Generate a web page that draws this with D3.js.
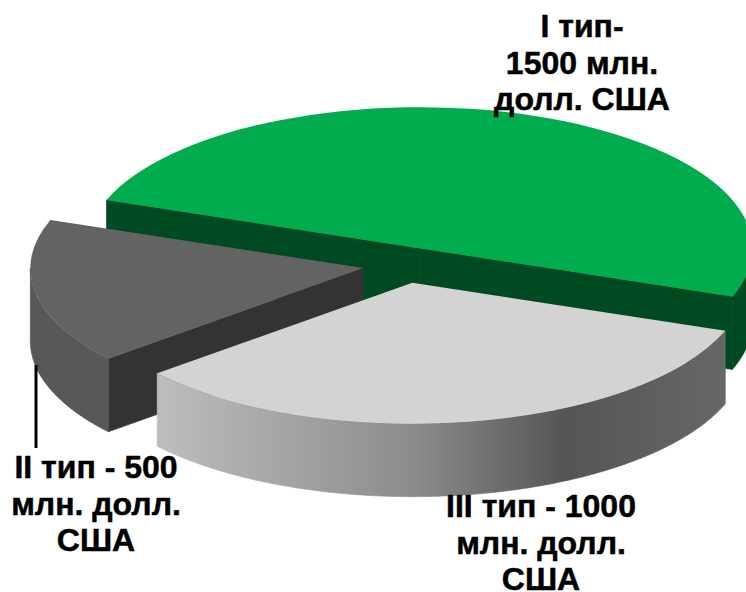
<!DOCTYPE html>
<html>
<head>
<meta charset="utf-8">
<script src="https://cdnjs.cloudflare.com/ajax/libs/d3/7.8.5/d3.min.js"></script>
<style>
    html, body { margin: 0; background: #fff; }
    svg { display: block; }
    text { font-family: "Liberation Sans", Arial, sans-serif; font-weight: bold; font-size: 32px; fill: #000; stroke: #000; stroke-width: 0.5px; }
</style>
</head>
<body>
<div id="chart"></div>
<script>
// clockwise from the big slice
var categories = ["I тип", "III тип", "II тип"];
var values = [1500, 1000, 500];
var labelLines = [
    ["I тип-", "1500 млн.", "долл. США"],
    ["III тип - 1000", "млн. долл.", "США"],
    ["II тип - 500", "млн. долл.", "США"]
];
var topColors = ["#00ac4e", "#d3d3d3", "#636363"];
var rimColors = ["#004a22", "url(#rimGradient)", "#585858"];
var cutColors = ["#004a22", "#d3d3d3", "#333333"];

var width = 746, height = 592;
var cx = 405, cy = 265;      // pie centre before the slices are pulled out
var radius = 333, tilt = 141 / 333;
var depth = 73, explode = 0.127;
var labelPos = [[582, 37], [541, 517], [96, 478]];
var lineHeight = 36.5;

var svg = d3.select("#chart").append("svg")
    .attr("width", width)
    .attr("height", height);

var gradient = svg.append("defs").append("linearGradient")
    .attr("id", "rimGradient");
[[0, "#bdbdbd"], [0.45, "#8c8c8c"], [0.72, "#555555"], [1, "#676767"]].forEach(function(s) {
    gradient.append("stop").attr("offset", s[0]).attr("stop-color", s[1]);
});

var pie = d3.pie()
    .sort(null)
    .startAngle(290 * Math.PI / 180)
    .endAngle(650 * Math.PI / 180);

var slices = pie(values).map(function(d, i) {
    var mid = (d.startAngle + d.endAngle) / 2;
    d.index = i;
    d.x = cx + explode * radius * Math.sin(mid);
    d.y = cy - explode * radius * tilt * Math.cos(mid);
    return d;
});

// paint back to front
slices.sort(function(a, b) { return a.y - b.y; });

var topArc = d3.arc().innerRadius(0).outerRadius(radius);
var wallLine = d3.line();

function rimPoint(d, a, drop) {
    return [d.x + radius * Math.sin(a), d.y - radius * tilt * Math.cos(a) + drop];
}

// outer wall: only the part of the arc that faces the viewer
function rimPath(d) {
    var step = Math.PI / 360;
    var angles = d3.range(d.startAngle, d.endAngle + step / 2, step).filter(function(a) {
        return Math.cos(a) <= 0;
    });
    if (!angles.length) return null;
    var upper = angles.map(function(a) { return rimPoint(d, a, 0); });
    var lower = angles.slice().reverse().map(function(a) { return rimPoint(d, a, depth); });
    return wallLine(upper.concat(lower)) + "Z";
}

function cutPath(d, a) {
    return wallLine([[d.x, d.y], rimPoint(d, a, 0), rimPoint(d, a, depth), [d.x, d.y + depth]]) + "Z";
}

var groups = svg.selectAll("g.slice")
    .data(slices)
    .enter().append("g")
    .attr("class", "slice");

groups.each(function(d) {
    var g = d3.select(this);

    // straight cut faces, drawn only if they turn toward the viewer
    // thin stroke in the same colour hides the seams between faces
    if (-Math.sin(d.startAngle) > 0) {
        g.append("path").attr("d", cutPath(d, d.startAngle))
            .attr("fill", cutColors[d.index]).attr("stroke", cutColors[d.index]).attr("stroke-width", 0.7);
    }
    if (Math.sin(d.endAngle) > 0) {
        g.append("path").attr("d", cutPath(d, d.endAngle))
            .attr("fill", cutColors[d.index]).attr("stroke", cutColors[d.index]).attr("stroke-width", 0.7);
    }

    var rim = rimPath(d);
    if (rim) {
        g.append("path").attr("d", rim)
            .attr("fill", rimColors[d.index]).attr("stroke", rimColors[d.index]).attr("stroke-width", 0.7);
    }

    g.append("path")
        .attr("d", topArc(d))
        .attr("transform", "translate(" + d.x + "," + d.y + ") scale(1," + tilt + ")")
        .attr("fill", topColors[d.index]);
});

// leader for the small slice
svg.append("line")
    .attr("x1", 36).attr("x2", 36)
    .attr("y1", 365).attr("y2", 448)
    .attr("stroke", "#000")
    .attr("stroke-width", 3);

var labels = svg.selectAll("text.label")
    .data(labelLines)
    .enter().append("text")
    .attr("class", "label")
    .attr("text-anchor", "middle");

labels.selectAll("tspan")
    .data(function(d, i) {
        return d.map(function(line, j) { return {text: line, x: labelPos[i][0], y: labelPos[i][1] + j * lineHeight}; });
    })
    .enter().append("tspan")
    .attr("x", function(d) { return d.x; })
    .attr("y", function(d) { return d.y; })
    .text(function(d) { return d.text; });
</script>
</body>
</html>
